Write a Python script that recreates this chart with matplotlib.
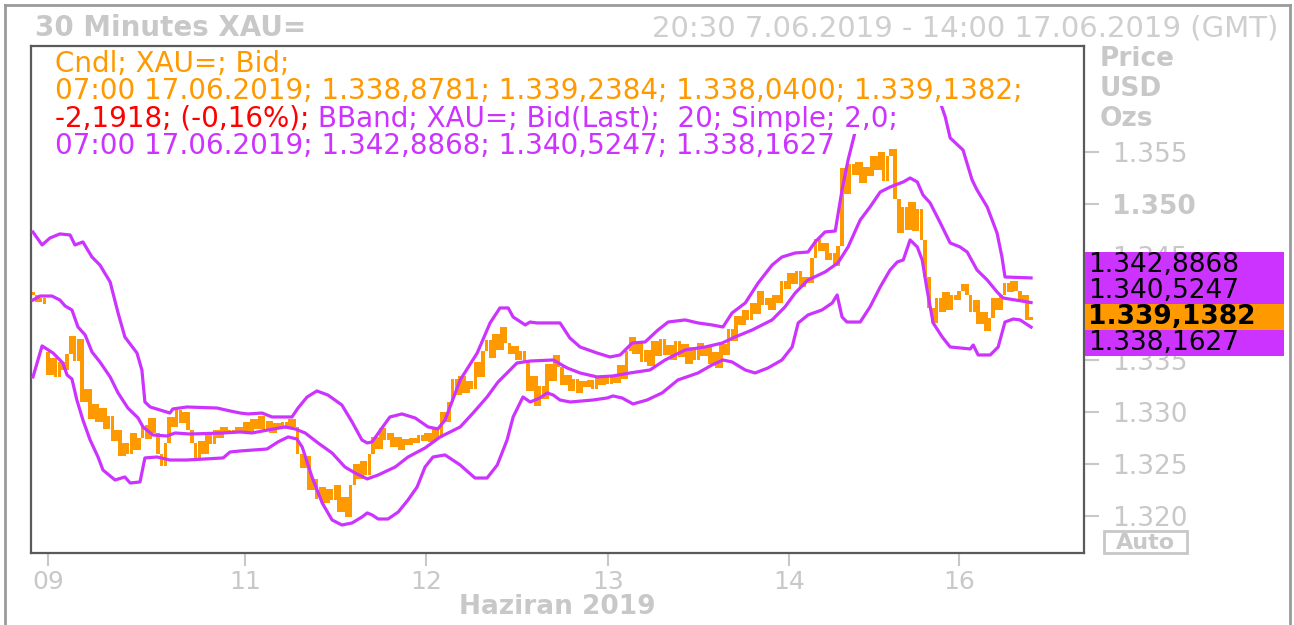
import numpy as np
import matplotlib
matplotlib.use("Agg")
import matplotlib.pyplot as plt
import matplotlib.transforms as mtransforms
from matplotlib.patches import Rectangle
from matplotlib.lines import Line2D
from matplotlib.text import Annotation

# 30 minute bid closes, one per bar (bar index = position on the x axis)
closes = [
    1341.2, 1340.6, 1341.0, 1340.4, 1333.6, 1335.2, 1333.4, 1334.8, 1334.0, 1335.6,
    1337.3, 1334.9, 1337.0, 1331.0, 1332.2, 1329.3, 1330.8, 1329.0, 1330.4, 1328.4,
    1329.6, 1327.2, 1328.3, 1325.8, 1327.0, 1326.0, 1328.0, 1326.3, 1327.5, 1328.7,
    1327.4, 1329.4, 1328.0, 1326.0, 1324.8, 1327.0, 1329.5, 1328.6, 1330.2, 1328.9,
    1330.0, 1328.3, 1327.0, 1325.4, 1327.2, 1326.0, 1328.0, 1326.9, 1328.3, 1327.5,
    1328.6, 1327.9, 1328.3, 1328.0, 1328.6, 1328.2, 1329.0, 1328.0, 1329.3, 1328.4,
    1329.6, 1328.2, 1329.1, 1328.0, 1328.9, 1328.5, 1329.0, 1328.4, 1329.3, 1328.6,
    1326.0, 1324.6, 1325.8, 1322.5, 1323.6, 1321.6, 1322.8, 1321.2, 1322.6, 1321.5,
    1323.0, 1320.4, 1321.8, 1319.9, 1323.0, 1325.0, 1323.6, 1325.3, 1323.9, 1326.0,
    1327.6, 1326.4, 1328.5, 1327.3, 1328.0, 1326.6, 1327.6, 1326.3, 1327.4, 1326.8,
    1327.5, 1327.0, 1327.8, 1327.2, 1328.0, 1327.1, 1328.4, 1327.5, 1330.0, 1329.0,
    1331.0, 1333.2, 1331.6, 1333.5, 1331.8, 1333.0, 1332.2, 1334.8, 1333.4, 1335.9,
    1336.9, 1335.2, 1337.5, 1336.0, 1338.2, 1336.6, 1335.6, 1336.3, 1335.0, 1335.9,
    1334.8, 1332.0, 1333.5, 1330.6, 1332.5, 1331.2, 1334.6, 1333.0, 1335.5, 1334.3,
    1332.6, 1333.6, 1332.0, 1333.2, 1331.8, 1333.0, 1332.4, 1333.1, 1332.2, 1333.4,
    1332.6, 1333.3, 1332.7, 1333.6, 1332.8, 1334.5, 1333.2, 1335.9, 1337.2, 1335.6,
    1336.7, 1334.8, 1336.0, 1334.4, 1336.8, 1335.4, 1337.0, 1335.5, 1336.4, 1335.0,
    1336.8, 1335.3, 1336.5, 1334.6, 1336.2, 1335.0, 1336.6, 1335.4, 1336.3, 1334.6,
    1335.8, 1334.2, 1336.5, 1335.5, 1338.0, 1336.8, 1339.2, 1338.4, 1339.8, 1338.8,
    1340.5, 1339.4, 1341.6, 1340.3, 1341.0, 1339.8, 1341.2, 1340.5, 1342.6, 1341.8,
    1343.4, 1342.3, 1343.6, 1342.0, 1343.0, 1342.4, 1344.8, 1346.6, 1345.5, 1346.2,
    1344.6, 1345.3, 1344.0, 1346.0, 1353.5, 1351.0, 1353.8, 1352.8, 1354.0, 1352.0,
    1353.6, 1352.7, 1354.6, 1353.3, 1355.0, 1352.2, 1354.6, 1355.3, 1350.5, 1347.2,
    1349.7, 1347.5, 1350.2, 1347.4, 1349.5, 1346.5, 1343.0, 1340.0, 1338.6, 1341.0,
    1339.6, 1341.5, 1339.8, 1341.2, 1340.8, 1341.6, 1342.3, 1341.2, 1339.6, 1340.8,
    1338.5, 1339.6, 1337.8, 1339.0, 1341.0, 1339.8, 1341.2, 1342.4, 1341.5, 1342.6,
    1341.6, 1340.6, 1341.2, 1338.88, 1339.14,
]
# bars whose open is not the previous close (series start, weekend gap)
gap_bars = [0, 4]
gap_opens = [1341.4, 1335.8]

# Bollinger band (20, 2.0)
upper_idx = [0, 2.4, 4.5, 7.1, 9.8, 11.1, 13.2, 15.6, 17.7, 20.4, 22.5, 24.3, 27.5, 28.8, 29.6,
             31, 33.6, 36.2, 37, 40.7, 48.7, 52.1, 54.8, 56.9, 60.6, 63.2, 68.5, 70.1, 72.5, 75.1,
             78, 81.7, 84.4, 87, 88.4, 89.7, 92.3, 94.4, 97.6, 101.1, 104.5, 107.1, 109, 113, 117.5,
             120.9, 123.5, 125.7, 127, 130.2, 131.5, 133.3, 139.4, 142, 144.7, 149.2, 152.6, 155.3,
             158.5, 161.9, 165.3, 168, 172.5, 175.9, 179.6, 182.5, 184.9, 188.4, 191.8, 195.5, 198.1,
             201.6, 205, 206.9, 209.5, 212.2, 214, 215.6, 217.5, 220, 223, 227, 231, 235, 239, 241.3,
             242.6, 246, 248.4, 249.7, 252.4, 255, 256.3, 257.1, 264]
upper = [1347.3, 1346.06, 1346.73, 1347.12, 1347.02, 1346.06, 1346.35, 1344.9, 1344.13, 1342.5,
         1339.52, 1337.21, 1335.67, 1334.04, 1330.96, 1330.48, 1330.19, 1329.9, 1330.29, 1330.48,
         1330.38, 1330.1, 1329.9, 1329.81, 1329.9, 1329.52, 1329.52, 1330.38, 1331.44, 1332.02,
         1331.63, 1330.67, 1329.04, 1327.31, 1327.02, 1327.12, 1328.46, 1329.52, 1329.81, 1329.42,
         1328.56, 1328.37, 1329.23, 1333.08, 1335.67, 1338.56, 1340.0, 1340.0, 1339.13, 1338.37,
         1338.65, 1338.56, 1338.56, 1337.12, 1336.25, 1335.67, 1335.29, 1335.48, 1336.63, 1336.73,
         1337.88, 1338.65, 1338.85, 1338.56, 1338.37, 1338.17, 1339.52, 1340.48, 1342.4, 1344.13,
         1344.9, 1345.29, 1345.38, 1346.35, 1347.31, 1347.4, 1351.35, 1354.23, 1357.0, 1359.8,
         1360.7, 1361.3, 1361.5, 1361.3, 1360.8, 1358.37, 1356.35, 1355.19, 1352.31, 1351.35,
         1349.71, 1347.21, 1344.9, 1342.98, 1342.89]

middle_idx = [0, 1.9, 5, 7.1, 8.5, 10.3, 11.9, 13.8, 15.6, 17.7, 20.4, 22.5, 25.1, 27.8, 29.1,
              31.7, 35.4, 37.6, 41.5, 50.3, 54.8, 57.9, 62.2, 66.7, 69.3, 72, 75.4, 79.1, 82.5, 85.2,
              88.4, 91.3, 95.8, 99.2, 103.7, 107.7, 113, 116.4, 120.1, 123, 125.4, 128, 131.5, 137.6,
              141.3, 144.7, 149.2, 153.4, 157.9, 163.2, 167.2, 172.5, 177.8, 182.3, 185.7, 190.2,
              195.5, 198.9, 201.6, 205, 209.5, 212.9, 215.6, 218.8, 221.4, 224.1, 226.7, 230.2, 232,
              233.9, 235.4, 237.3, 240, 242.6, 245.2, 247.1, 249.7, 252.4, 255, 256.6, 264]
middle = [1340.77, 1341.15, 1341.15, 1340.77, 1340.19, 1339.81, 1338.17, 1337.4, 1335.77, 1334.81,
          1333.37, 1331.83, 1330.38, 1329.42, 1328.56, 1327.79, 1327.69, 1327.98, 1327.88, 1327.98,
          1328.08, 1327.98, 1328.27, 1328.56, 1328.37, 1327.98, 1327.02, 1326.06, 1324.71, 1324.13,
          1323.56, 1323.94, 1324.71, 1325.67, 1326.54, 1327.6, 1328.56, 1329.9, 1331.44, 1332.88,
          1333.75, 1334.71, 1334.9, 1335.0, 1334.23, 1333.75, 1333.37, 1333.46, 1333.75, 1334.04,
          1335.0, 1335.96, 1336.25, 1336.63, 1337.21, 1337.88, 1338.85, 1340.1, 1341.44, 1342.69,
          1343.46, 1344.33, 1345.87, 1348.46, 1349.71, 1351.15, 1351.63, 1352.12, 1352.5, 1352.12,
          1350.87, 1350.1, 1348.17, 1346.25, 1345.87, 1345.38, 1343.65, 1342.69, 1341.54, 1340.96,
          1340.52]

lower_idx = [0, 2.4, 5.3, 7.9, 9, 10.3, 11.6, 13.2, 15.1, 17.2, 18.5, 21.7, 24.3, 25.7, 28.3,
             29.6, 32.8, 36.2, 40.7, 50.3, 52.1, 54.8, 61.9, 64.8, 67.5, 69.8, 71.2, 73.8, 76.5, 79.1,
             81.7, 84.4, 87, 88.4, 89.7, 91.3, 93.9, 96.6, 99.2, 101.6, 103.7, 105.8, 109, 113, 116.9,
             120.1, 122.8, 125.4, 127, 129.6, 131.5, 134.1, 136, 137.6, 139.4, 142.1, 148.1, 151.9,
             153.4, 155.8, 158.7, 162.4, 166.4, 170.6, 175.9, 179.6, 182.5, 184.9, 188.4, 191, 194.4,
             198.1, 200.8, 202.4, 205, 208.7, 211.4, 212.7, 214, 215.3, 218.8, 221.4, 224.1, 226.7,
             228.6, 230.2, 232, 233.9, 235.2, 236.5, 238.1, 240.5, 242.6, 247.9, 248.7, 250, 253.2,
             255.3, 257.1, 259.3, 261.1, 264]
lower = [1333.37, 1336.35, 1335.67, 1334.71, 1333.56, 1333.17, 1331.15, 1329.23, 1327.31, 1325.67,
         1324.42, 1323.46, 1323.75, 1323.17, 1323.27, 1325.58, 1325.67, 1325.38, 1325.38, 1325.58,
         1326.15, 1326.25, 1326.44, 1327.12, 1327.6, 1327.4, 1326.63, 1323.75, 1321.25, 1319.62,
         1319.13, 1319.33, 1319.9, 1320.29, 1320.1, 1319.71, 1319.71, 1320.38, 1321.54, 1322.79,
         1324.71, 1325.67, 1325.87, 1324.9, 1323.65, 1323.65, 1324.9, 1327.31, 1329.52, 1331.44,
         1330.96, 1331.35, 1331.83, 1331.63, 1331.15, 1330.96, 1331.15, 1331.35, 1331.54, 1331.35,
         1330.77, 1331.15, 1331.83, 1333.08, 1333.75, 1334.52, 1335.0, 1334.81, 1334.04, 1333.75,
         1334.23, 1335.0, 1336.25, 1338.56, 1339.33, 1339.81, 1340.48, 1341.25, 1339.13, 1338.65,
         1338.65, 1340.1, 1342.02, 1343.65, 1344.42, 1344.62, 1346.54, 1345.87, 1344.62, 1341.73,
         1338.56, 1337.21, 1336.25, 1336.06, 1336.44, 1335.48, 1335.48, 1336.25, 1338.65, 1338.94,
         1338.85, 1338.16]

day_ticks = [4, 56, 104, 152, 200, 245]
day_labels = ["09", "11", "12", "13", "14", "16"]
price_ticks = [1320, 1325, 1330, 1335, 1340, 1345, 1350, 1355]

last_labels = ["1.342,8868", "1.340,5247", "1.339,1382", "1.338,1627"]

ORANGE = "#FF9900"
PURPLE = "#CC33FF"
GRAY = "#C8C8C8"
W, H = 1294, 625


def fx(x):
    return x / W


def fy(y):
    return 1 - y / H


fig = plt.figure(figsize=(W / 100, H / 100), dpi=100)
ax = fig.add_axes([fx(31), fy(553), (1084 - 31) / W, (553 - 46) / H])
ax.set_xlim(-0.53, 278.0)
ax.set_ylim(1316.44, 1365.19)

closes = np.array(closes)
opens = np.r_[closes[0], closes[:-1]]
opens[gap_bars] = gap_opens
idx = np.arange(len(closes))
body = np.maximum(np.abs(closes - opens), 0.3)
ax.bar(idx, body, bottom=np.minimum(opens, closes), width=0.95, color=ORANGE,
       linewidth=0, zorder=2)

for bx, by in [(upper_idx, upper), (middle_idx, middle), (lower_idx, lower)]:
    ax.plot(bx, by, color=PURPLE, lw=2.3, zorder=3, solid_joinstyle="round")

for s in ax.spines.values():
    s.set_color("#5A5A5A")
    s.set_linewidth(1.6)

ax.yaxis.tick_right()
ax.set_yticks(price_ticks, ["%.3f" % (v / 1000) for v in price_ticks])
ax.tick_params(axis="y", direction="out", length=11, width=1.5, color=GRAY, pad=9,
               labelsize=19, labelcolor=GRAY)
for lab in ax.get_yticklabels():
    if lab.get_text() == "1.350":
        lab.set_fontweight("bold")
ax.set_xticks(day_ticks, day_labels)
ax.tick_params(axis="x", direction="out", length=9, width=1.5, color=GRAY, pad=3,
               labelsize=18, labelcolor=GRAY)

# stacked last-value boxes on the price scale
last_close = closes[-1]
box_h = 2.5
centers = last_close + np.array([2, 1, 0, -1]) * box_h
trans = mtransforms.blended_transform_factory(fig.transFigure, ax.transData)
for i, (c, lab) in enumerate(zip(centers, last_labels)):
    col = ORANGE if i == 2 else PURPLE
    ax.add_patch(Rectangle((fx(1085), c - box_h / 2), fx(1284) - fx(1085), box_h,
                           transform=trans, facecolor=col, edgecolor="none",
                           clip_on=False, zorder=10))
    ax.text(fx(1088), c, lab, transform=trans, va="center", ha="left", fontsize=19,
            color="black", fontweight="bold" if i == 2 else "normal",
            clip_on=False, zorder=11)

# header texts
fig.text(fx(35), fy(28), "30 Minutes XAU=", fontsize=20, fontweight="bold", color=GRAY,
         va="center", ha="left")
fig.text(fx(1278), fy(28), "20:30 7.06.2019 - 14:00 17.06.2019 (GMT)", fontsize=21,
         color="#CFCFCF", va="center", ha="right")
for y, t in [(59, "Price"), (89, "USD"), (119, "Ozs")]:
    fig.text(fx(1100), fy(y), t, fontsize=19, fontweight="bold", color=GRAY,
             va="center", ha="left")
fig.text(fx(557), fy(607), "Haziran 2019", fontsize=19, fontweight="bold", color=GRAY,
         va="center", ha="center")

fig.patches.append(Rectangle((fx(1104), fy(553)), fx(1187) - fx(1104), (553 - 531) / H,
                             transform=fig.transFigure, fill=False, edgecolor=GRAY, lw=2))
fig.text(fx(1145.5), fy(543), "Auto", fontsize=16, fontweight="bold", color=GRAY,
         va="center", ha="center")

# outer frame
for xs, ys in [([5, 5], [5, 625]), ([5, 1290], [5, 5]), ([1290, 1290], [5, 625])]:
    fig.add_artist(Line2D([fx(x) for x in xs], [fy(y) for y in ys], color="#9A9A9A", lw=2,
                          transform=fig.transFigure))

# legend lines (white background hides what is under them)
box = dict(facecolor="white", edgecolor="none", pad=0.8)
fs = 20
fig.text(fx(55), fy(64), "Cndl; XAU=; Bid;", fontsize=fs, color=ORANGE, va="center",
         bbox=box)
fig.text(fx(55), fy(91), "07:00 17.06.2019; 1.338,8781; 1.339,2384; 1.338,0400; 1.339,1382;",
         fontsize=fs, color=ORANGE, va="center", bbox=box)
red = fig.text(fx(55), fy(119), "-2,1918; (-0,16%);", fontsize=fs, color="#FF0000",
               va="center", bbox=box)
fig.add_artist(Annotation(" BBand; XAU=; Bid(Last);  20; Simple; 2,0;", xy=(1, 0),
                          xycoords=red, va="bottom", ha="left", fontsize=fs, color=PURPLE,
                          bbox=box))
fig.text(fx(55), fy(146), "07:00 17.06.2019; 1.342,8868; 1.340,5247; 1.338,1627",
         fontsize=fs, color=PURPLE, va="center", bbox=box)

fig.savefig("out.png", dpi=100, facecolor="white")
